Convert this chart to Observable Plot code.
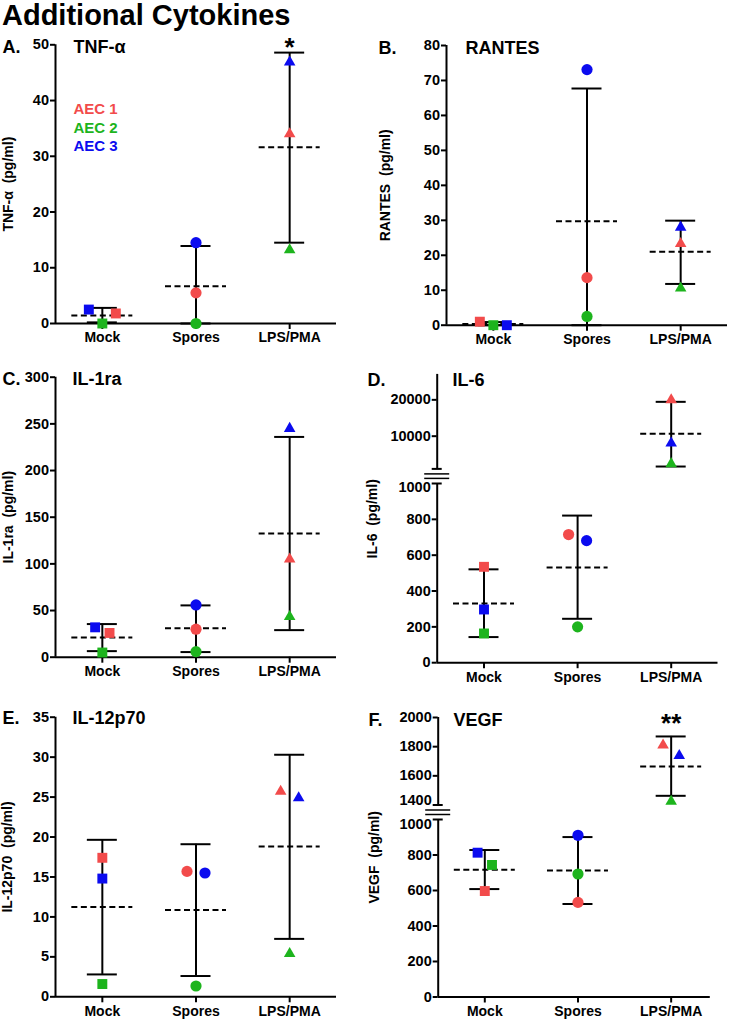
<!DOCTYPE html>
<html>
<head>
<meta charset="utf-8">
<script src="https://cdn.jsdelivr.net/npm/d3@7"></script>
<script src="https://cdn.jsdelivr.net/npm/@observablehq/plot@0.6"></script>
<style>
  html, body { margin: 0; padding: 0; background: #fff; }
  #root { position: relative; width: 730px; height: 1020px; overflow: hidden; font-family: "Liberation Sans", Arial, sans-serif; }
  #title { position: absolute; left: 2px; top: 0px; font-size: 29px; font-weight: bold; line-height: 1.05; color: #000; white-space: nowrap; }
</style>
</head>
<body>
<div id="root"><div id="title">Additional Cytokines</div></div>
<script>
// ---------- shared categories ----------
const groups = ["Mock", "Spores", "LPS/PMA"];
const donors = ["AEC 1", "AEC 2", "AEC 3"];
const donorColors = ["#f24b4b", "#1db41d", "#0b0bef"];
const groupSymbols = ["square", "circle", "triangle"];

// ---------- A. TNF-α (rows: groups, columns: donors) ----------
const tnfValues = [[1.8, 0, 2.5], [5.5, 0, 14.5], [34.0, 13.2, 46.9]];
const tnfSides  = [[1.5, 0, -1.5], [0, 0, 0], [0, 0, 0]];
const tnfMean   = [1.45, 6.7, 31.6];
const tnfLow    = [0.2, 0, 14.5];
const tnfHigh   = [2.8, 13.9, 48.6];
const tnfStars  = ["", "", "*"];
const tnfTicks  = [0, 10, 20, 30, 40, 50];

// ---------- B. RANTES ----------
const rantesValues = [[1.0, 0, 0], [13.6, 2.5, 73.1], [23.3, 10.6, 28.0]];
const rantesSides  = [[-1.5, 0, 1.5], [0, 0, 0], [0, 0, 0]];
const rantesMean   = [0.35, 29.7, 21.0];
const rantesLow    = [0, 0, 11.8];
const rantesHigh   = [0.9, 67.7, 29.9];
const rantesTicks  = [0, 10, 20, 30, 40, 50, 60, 70, 80];

// ---------- C. IL-1ra ----------
const il1raValues = [[26, 5, 32], [30, 6, 56], [105, 43.5, 245]];
const il1raSides  = [[0.8, 0, -0.8], [0, 0, 0], [0, 0, 0]];
const il1raMean   = [21, 31, 132.5];
const il1raLow    = [6.5, 5.5, 29];
const il1raHigh   = [35.5, 55.5, 236];
const il1raTicks  = [0, 50, 100, 150, 200, 250, 300];

// ---------- D. IL-6 (broken axis) ----------
const il6Values = [[535, 163, 297], [715, 200, 681], [20000, 2400, 8100]];
const il6Sides  = [[0, 0, 0], [-1, 0, 1], [0, 0, 0]];
const il6Mean   = [331, 531, 10640];
const il6Low    = [143, 245, 1650];
const il6High   = [521, 821, 19450];
const il6UpperTicks = [10000, 20000];
const il6LowerTicks = [0, 200, 400, 600, 800];
const il6BreakLabel = [1000];

// ---------- E. IL-12p70 ----------
const il12Values = [[17.4, 1.6, 14.8], [15.7, 1.35, 15.5], [25.7, 5.4, 24.9]];
const il12Sides  = [[0, 0, 0], [-1, 0, 1], [-1, 0, 1]];
const il12Mean   = [11.25, 10.85, 18.8];
const il12Low    = [2.8, 2.6, 7.25];
const il12High   = [19.65, 19.1, 30.3];
const il12Ticks  = [0, 5, 10, 15, 20, 25, 30, 35];

// ---------- F. VEGF (broken axis) ----------
const vegfValues = [[597, 744, 813], [533, 693, 911], [1810, 1424, 1739]];
const vegfSides  = [[0, 0.8, -0.8], [0, 0, 0], [-0.9, 0, 0.9]];
const vegfMean   = [717, 712, 1664];
const vegfLow    = [608, 524, 1463];
const vegfHigh   = [828, 901, 1870];
const vegfStars  = ["", "", "**"];
const vegfUpperTicks = [1600, 1800, 2000];
const vegfUpperBreakLabel = [1400];
const vegfLowerTicks = [0, 200, 400, 600, 800];
const vegfLowerBreakLabel = [1000];

// ---------- panel definitions (layout separate from data) ----------
const panels = [
  {letter: "A.", name: "TNF-α", yLabel: "TNF-α  (pg/ml)", values: tnfValues, sides: tnfSides,
   mean: tnfMean, low: tnfLow, high: tnfHigh, stars: tnfStars, legend: true,
   L: {colX: 0, rowTop: 28, rowBottom: 360, left: 55, right: 336, xMax: 2.5,
       letterX: 2, nameX: 73, textY: 46.5, labelX: 8.2, starSize: 26, starDy: 2.5,
       segs: [{domain: [0, 50], top: 44.3, bottom: 323, ticks: tnfTicks}]}},
  {letter: "B.", name: "RANTES", yLabel: "RANTES  (pg/ml)", values: rantesValues, sides: rantesSides,
   mean: rantesMean, low: rantesLow, high: rantesHigh,
   L: {colX: 365, rowTop: 28, rowBottom: 360, left: 446, right: 727, xMax: 2.5,
       letterX: 378, nameX: 465, textY: 47.5, labelX: 385,
       segs: [{domain: [0, 80], top: 45, bottom: 324.7, ticks: rantesTicks}]}},
  {letter: "C.", name: "IL-1ra", yLabel: "IL-1ra  (pg/ml)", values: il1raValues, sides: il1raSides,
   mean: il1raMean, low: il1raLow, high: il1raHigh,
   L: {colX: 0, rowTop: 360, rowBottom: 690, left: 55, right: 336, xMax: 2.5,
       letterX: 2, nameX: 72, textY: 379.2, labelX: 8.2,
       segs: [{domain: [0, 300], top: 376.7, bottom: 656.7, ticks: il1raTicks}]}},
  {letter: "D.", name: "IL-6", yLabel: "IL-6  (pg/ml)", values: il6Values, sides: il6Sides,
   mean: il6Mean, low: il6Low, high: il6High,
   L: {colX: 365, rowTop: 360, rowBottom: 690, left: 436.7, right: 717.5, xMax: 2.5,
       letterX: 367, nameX: 452, textY: 379.7, labelX: 372.5,
       segs: [{domain: [1000, 27000], top: 373.9, bottom: 468.4, ticks: il6UpperTicks},
              {domain: [0, 1000], top: 482.5, bottom: 661.7, ticks: il6LowerTicks, breakLabels: il6BreakLabel, breakDy: 4}]}},
  {letter: "E.", name: "IL-12p70", yLabel: "IL-12p70  (pg/ml)", values: il12Values, sides: il12Sides,
   mean: il12Mean, low: il12Low, high: il12High,
   L: {colX: 0, rowTop: 690, rowBottom: 1020, left: 55, right: 336, xMax: 2.5,
       letterX: 2, nameX: 72, textY: 718.2, labelX: 7.5,
       segs: [{domain: [0, 35], top: 716.7, bottom: 996.3, ticks: il12Ticks}]}},
  {letter: "F.", name: "VEGF", yLabel: "VEGF  (pg/ml)", values: vegfValues, sides: vegfSides,
   mean: vegfMean, low: vegfLow, high: vegfHigh, stars: vegfStars,
   L: {colX: 365, rowTop: 690, rowBottom: 1020, left: 437.7, right: 709.8, xMax: 2.42,
       letterX: 368, nameX: 453, textY: 719.7, labelX: 374, starSize: 26, starDy: 6.5,
       segs: [{domain: [1400, 2000], top: 717, bottom: 804.5, ticks: vegfUpperTicks, breakLabels: vegfUpperBreakLabel, breakDy: -4.5},
              {domain: [0, 1000], top: 818.8, bottom: 996.3, ticks: vegfLowerTicks, breakLabels: vegfLowerBreakLabel, breakDy: 4.5}]}}
];

const root = document.getElementById("root");
const bold = "bold";

function rowsFor(p) {
  return groups.map((g, i) => ({i, group: g, mean: p.mean[i], low: p.low[i], high: p.high[i], star: p.stars ? p.stars[i] : ""}));
}
function pointsFor(p) {
  const out = [];
  groups.forEach((g, i) => donors.forEach((d, k) => out.push({i, group: g, donor: d, value: p.values[i][k], side: p.sides[i][k]})));
  return out;
}

for (const p of panels) {
  const L = p.L;
  const rows = rowsFor(p);
  const pts = pointsFor(p);
  const pxToX = (L.xMax + 0.5) / (L.right - L.left);
  const capW = 15 * pxToX, meanW = 30.5 * pxToX, slotW = 9 * pxToX;
  const nSeg = L.segs.length;
  const fullMid = (L.segs[0].top + L.segs[nSeg - 1].bottom) / 2;

  L.segs.forEach((s, si) => {
    const isTop = si === 0, isBottom = si === nSeg - 1;
    const svgTop = isTop ? L.rowTop : s.top - 4;
    const svgBottom = isBottom ? L.rowBottom : s.bottom + 14;
    const [d0, d1] = s.domain;
    const inSeg = v => v >= d0 && v <= d1;
    const segRows = rows.filter(r => inSeg(r.mean));
    const segPts = pts.filter(d => inSeg(d.value));
    const marginLeft = L.left - L.colX;
    const marginTop = s.top - svgTop;
    const marginBottom = svgBottom - s.bottom;

    const marks = [];
    // axis lines
    marks.push(Plot.ruleX([-0.5], {strokeWidth: 2}));
    if (isBottom) {
      marks.push(Plot.ruleY([d0], {strokeWidth: 2}));
      marks.push(Plot.axisX({ticks: [0, 1, 2], tickFormat: i => groups[i], tickSize: 6, tickPadding: 3,
        strokeWidth: 2, fontSize: 14, fontWeight: bold, label: null}));
    }
    marks.push(Plot.axisY({ticks: s.ticks, tickFormat: d => String(d), tickSize: 5, tickPadding: 1.5,
      strokeWidth: 2, fontSize: 14.5, fontWeight: bold, label: null}));
    if (s.breakLabels) {
      marks.push(Plot.text(s.breakLabels, {y: d => d, text: d => String(d), frameAnchor: "left", dx: -6.5, dy: s.breakDy,
        textAnchor: "end", fontSize: 14.5, fontWeight: bold}));
    }
    // axis break symbols
    if (!isBottom) {
      marks.push(Plot.ruleY([d0], {x1: -0.5 - 5 * pxToX, x2: -0.5 + 5 * pxToX, strokeWidth: 2}));
      marks.push(Plot.ruleY([d0], {x1: -0.5 - 12.5 * pxToX, x2: -0.5 + 12.5 * pxToX, dy: 5, strokeWidth: 1.5}));
      marks.push(Plot.ruleY([d0], {x1: -0.5 - 12.5 * pxToX, x2: -0.5 + 12.5 * pxToX, dy: 9.5, strokeWidth: 1.5}));
    }
    if (!isTop) {
      marks.push(Plot.ruleY([d1], {x1: -0.5 - 5 * pxToX, x2: -0.5 + 5 * pxToX, strokeWidth: 2}));
    }
    // mean ± SD
    marks.push(Plot.ruleX(segRows, {x: "i", y1: "low", y2: "high", strokeWidth: 2}));
    marks.push(Plot.ruleY(segRows, {y: "high", x1: r => r.i - capW, x2: r => r.i + capW, strokeWidth: 2}));
    marks.push(Plot.ruleY(segRows, {y: "low", x1: r => r.i - capW, x2: r => r.i + capW, strokeWidth: 2}));
    marks.push(Plot.ruleY(segRows, {y: "mean", x1: r => r.i - meanW, x2: r => r.i + meanW, strokeWidth: 2, strokeDasharray: "6,3.5"}));
    // points
    marks.push(Plot.dot(segPts.filter(d => d.group !== "LPS/PMA"), {x: d => d.i + d.side * slotW, y: "value", symbol: "group", fill: "donor", r: 5.6}));
    marks.push(Plot.dot(segPts.filter(d => d.group === "LPS/PMA"), {x: d => d.i + d.side * slotW, y: "value", symbol: "group", fill: "donor", r: 4.3}));

    if (isTop) {
      marks.push(Plot.text([p.letter], {text: d => d, frameAnchor: "top-left", dx: L.letterX - L.left, dy: L.textY - s.top,
        textAnchor: "start", lineAnchor: "middle", fontSize: 18, fontWeight: bold}));
      marks.push(Plot.text([p.name], {text: d => d, frameAnchor: "top-left", dx: L.nameX - L.left, dy: L.textY - s.top,
        textAnchor: "start", lineAnchor: "middle", fontSize: 18, fontWeight: bold}));
      if (p.legend) {
        donors.forEach((d, k) => marks.push(Plot.text([d], {text: t => t, frameAnchor: "top-left", dx: 18, dy: 64.7 + 18.5 * k,
          textAnchor: "start", lineAnchor: "middle", fill: donorColors[k], fontSize: 15, fontWeight: bold})));
      }
      if (p.stars) {
        marks.push(Plot.text(rows.filter(r => r.star), {x: "i", text: "star", frameAnchor: "top", dy: L.starDy,
          lineAnchor: "middle", fontSize: L.starSize, fontWeight: bold}));
      }
    }
    if (isBottom) {
      marks.push(Plot.text([p.yLabel], {text: d => d, frameAnchor: "left", rotate: -90, dx: L.labelX - L.left,
        dy: fullMid - (s.top + s.bottom) / 2, textAnchor: "middle", lineAnchor: "middle", fontSize: 14, fontWeight: bold}));
    }

    const svg = Plot.plot({
      width: 365,
      height: svgBottom - svgTop,
      marginLeft, marginRight: L.colX + 365 - L.right, marginTop, marginBottom,
      style: {background: "transparent", overflow: "visible", fontFamily: "'Liberation Sans', Arial, sans-serif", fontWeight: "bold", color: "#000"},
      x: {domain: [-0.5, L.xMax], axis: null, label: null},
      y: {domain: s.domain, axis: null, label: null},
      symbol: {domain: groups, range: groupSymbols},
      color: {domain: donors, range: donorColors},
      marks
    });
    svg.style.position = "absolute";
    svg.style.left = L.colX + "px";
    svg.style.top = svgTop + "px";
    root.appendChild(svg);
  });
}
</script>
</body>
</html>
